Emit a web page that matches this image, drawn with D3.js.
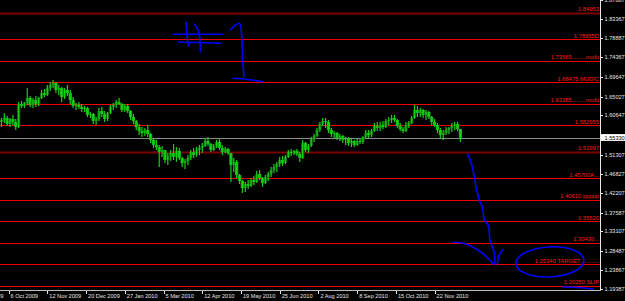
<!DOCTYPE html>
<html>
<head>
<meta charset="utf-8">
<script src="https://d3js.org/d3.v7.min.js"></script>
<style>
  body { margin: 0; background: #000; }
  svg { display: block; }
</style>
</head>
<body>
<div id="chart"></div>
<script>

// two-day candles, GBP/USD
var open = [1.5906,1.5953,1.6001,1.5858,1.5977,1.5906,1.5787,1.6332,1.6285,1.6356,
  1.6474,1.6309,1.6427,1.6332,1.6474,1.6593,1.6546,1.6711,1.6783,1.6830,
  1.6664,1.6711,1.6498,1.6664,1.6593,1.6427,1.6285,1.6309,1.6261,1.6214,
  1.6237,1.6072,1.6095,1.5929,1.5977,1.6166,1.6095,1.5977,1.6119,1.6261,
  1.6309,1.6380,1.6332,1.6190,1.6285,1.6166,1.6024,1.5929,1.5787,1.5692,
  1.5645,1.5716,1.5621,1.5479,1.5361,1.5313,1.5195,1.5242,1.5005,1.5100,
  1.5171,1.5076,1.5218,1.5053,1.4934,1.4981,1.5053,1.5195,1.5124,1.5242,
  1.5290,1.5337,1.5455,1.5384,1.5242,1.5337,1.5432,1.5290,1.5195,1.5266,
  1.5171,1.4887,1.4958,1.4650,1.4507,1.4341,1.4436,1.4389,1.4531,1.4484,
  1.4673,1.4578,1.4460,1.4602,1.4673,1.4768,1.4839,1.4910,1.5005,1.4934,
  1.5076,1.5195,1.5171,1.5218,1.5147,1.5053,1.5408,1.5242,1.5337,1.5503,
  1.5574,1.5716,1.5858,1.5929,1.5906,1.5716,1.5621,1.5645,1.5527,1.5574,
  1.5479,1.5503,1.5408,1.5455,1.5361,1.5455,1.5432,1.5550,1.5645,1.5598,
  1.5692,1.5811,1.5764,1.5835,1.5787,1.5929,1.5953,1.6001,1.5953,1.5811,
  1.5740,1.5692,1.5835,1.5882,1.6001,1.6190,1.6119,1.6190,1.6072,1.6143,
  1.6024,1.5906,1.5835,1.5716,1.5598,1.5645,1.5716,1.5764,1.5811,1.5858,
  1.5740];

var high = [1.6001,1.6119,1.6048,1.6001,1.6072,1.5977,1.6380,1.6403,1.6380,1.6711,
  1.6522,1.6474,1.6522,1.6498,1.6664,1.6688,1.6783,1.6854,1.6901,1.6854,
  1.6783,1.6735,1.6711,1.6783,1.6664,1.6498,1.6356,1.6380,1.6332,1.6285,
  1.6261,1.6143,1.6119,1.6024,1.6237,1.6261,1.6166,1.6143,1.6309,1.6356,
  1.6427,1.6474,1.6356,1.6332,1.6332,1.6190,1.6095,1.5953,1.5858,1.5787,
  1.5764,1.5835,1.5645,1.5527,1.5479,1.5361,1.5337,1.5242,1.5171,1.5242,
  1.5384,1.5313,1.5290,1.5076,1.5029,1.5124,1.5242,1.5290,1.5313,1.5361,
  1.5408,1.5527,1.5550,1.5408,1.5384,1.5479,1.5503,1.5361,1.5313,1.5290,
  1.5171,1.5053,1.5005,1.4673,1.4531,1.4484,1.4531,1.4578,1.4626,1.4744,
  1.4768,1.4602,1.4650,1.4721,1.4839,1.4910,1.4958,1.5076,1.5100,1.5124,
  1.5242,1.5266,1.5242,1.5266,1.5195,1.5479,1.5432,1.5384,1.5550,1.5621,
  1.5764,1.5906,1.6001,1.6001,1.5953,1.5764,1.5692,1.5669,1.5621,1.5598,
  1.5550,1.5550,1.5503,1.5479,1.5527,1.5527,1.5574,1.5716,1.5716,1.5740,
  1.5882,1.5906,1.5906,1.5929,1.5977,1.6024,1.6072,1.6072,1.5977,1.5882,
  1.5787,1.5906,1.5929,1.6048,1.6309,1.6285,1.6237,1.6214,1.6190,1.6166,
  1.6048,1.5977,1.5882,1.5764,1.5716,1.5787,1.5787,1.5882,1.5906,1.5906,
  1.5740];

var low = [1.5787,1.5882,1.5811,1.5787,1.5835,1.5716,1.5764,1.6237,1.6237,1.6309,
  1.6261,1.6237,1.6261,1.6285,1.6451,1.6498,1.6522,1.6640,1.6711,1.6593,
  1.6546,1.6380,1.6451,1.6522,1.6332,1.6237,1.6190,1.6214,1.6143,1.6143,
  1.6024,1.6001,1.5858,1.5835,1.5929,1.6024,1.5906,1.5929,1.6095,1.6190,
  1.6237,1.6309,1.6143,1.6143,1.6119,1.5953,1.5858,1.5716,1.5598,1.5550,
  1.5574,1.5550,1.5408,1.5290,1.5242,1.4839,1.5076,1.4934,1.4887,1.4981,
  1.5005,1.4958,1.5005,1.4839,1.4792,1.4887,1.5005,1.5053,1.5076,1.5124,
  1.5171,1.5313,1.5337,1.5195,1.5218,1.5290,1.5242,1.5124,1.5171,1.5124,
  1.4484,1.4721,1.4578,1.4436,1.4223,1.4247,1.4318,1.4365,1.4413,1.4460,
  1.4531,1.4365,1.4436,1.4507,1.4602,1.4697,1.4721,1.4839,1.4863,1.4910,
  1.5053,1.5100,1.5124,1.5100,1.4958,1.5029,1.5195,1.5171,1.5313,1.5432,
  1.5550,1.5669,1.5811,1.5764,1.5645,1.5550,1.5527,1.5479,1.5455,1.5408,
  1.5361,1.5337,1.5313,1.5313,1.5337,1.5384,1.5384,1.5503,1.5527,1.5550,
  1.5669,1.5692,1.5692,1.5740,1.5764,1.5835,1.5882,1.5906,1.5764,1.5692,
  1.5645,1.5669,1.5764,1.5858,1.5977,1.6024,1.6024,1.6001,1.5953,1.5977,
  1.5835,1.5787,1.5645,1.5527,1.5479,1.5598,1.5621,1.5669,1.5716,1.5692,
  1.5432];

var close = [1.5953,1.6001,1.5858,1.5977,1.5906,1.5787,1.6332,1.6285,1.6356,1.6474,
  1.6309,1.6427,1.6332,1.6474,1.6593,1.6546,1.6711,1.6783,1.6830,1.6664,
  1.6711,1.6498,1.6664,1.6593,1.6427,1.6285,1.6309,1.6261,1.6214,1.6237,
  1.6072,1.6095,1.5929,1.5977,1.6166,1.6095,1.5977,1.6119,1.6261,1.6309,
  1.6380,1.6332,1.6190,1.6285,1.6166,1.6024,1.5929,1.5787,1.5692,1.5645,
  1.5716,1.5621,1.5479,1.5361,1.5313,1.5195,1.5242,1.5005,1.5100,1.5171,
  1.5076,1.5218,1.5053,1.4934,1.4981,1.5053,1.5195,1.5124,1.5242,1.5290,
  1.5337,1.5455,1.5384,1.5242,1.5337,1.5432,1.5290,1.5195,1.5266,1.5171,
  1.4887,1.4958,1.4650,1.4507,1.4341,1.4436,1.4389,1.4531,1.4484,1.4673,
  1.4578,1.4460,1.4602,1.4673,1.4768,1.4839,1.4910,1.5005,1.4934,1.5076,
  1.5195,1.5171,1.5218,1.5147,1.5053,1.5408,1.5242,1.5337,1.5503,1.5574,
  1.5716,1.5858,1.5929,1.5906,1.5716,1.5621,1.5645,1.5527,1.5574,1.5479,
  1.5503,1.5408,1.5455,1.5361,1.5455,1.5432,1.5550,1.5645,1.5598,1.5692,
  1.5811,1.5764,1.5835,1.5787,1.5929,1.5953,1.6001,1.5953,1.5811,1.5740,
  1.5692,1.5835,1.5882,1.6001,1.6190,1.6119,1.6190,1.6072,1.6143,1.6024,
  1.5906,1.5835,1.5716,1.5598,1.5645,1.5716,1.5764,1.5811,1.5858,1.5740,
  1.5533];

var bidPrice = 1.5533;

// horizontal levels drawn on the chart and their notes
var levelPrices = [1.84953, 1.78655, 1.73565, 1.68475, 1.63385, 1.582955, 1.51997,
  1.45700, 1.40610, 1.35520, 1.30430, 1.25340, 1.20250];
var levelNotes = ["1.84953", "1.78655D", "1.73565.........mofu", "1.68475  MUD/C",
  "1.63385.........mofu", "1.582955", "1.51997", "1.45700A...", "1.40610  ppppp",
  "1.35520", "1.30430...", "1.25340   TARGET............", "1.20250   SLIP"];
var darkLevels = [1.84953, 1.51997];

// price scale labels (the one under the bid box is left out)
var priceTicks = ["1.87887", "1.83367", "1.78887", "1.74367", "1.69647", "1.65027",
  "1.60647", "1.51307", "1.46827", "1.42207", "1.37587", "1.33107",
  "1.28487", "1.23867", "1.19387"];

// time scale labels, positions in trading days from the left edge
var dateTickDays = [-21, 6, 33, 60, 87, 114, 141, 168, 195, 222, 249, 276, 303];
var dateLabels = ["28 Aug 2009", "6 Oct 2009", "12 Nov 2009", "20 Dec 2009",
  "27 Jan 2010", "5 Mar 2010", "12 Apr 2010", "19 May 2010", "25 Jun 2010",
  "2 Aug 2010", "8 Sep 2010", "15 Oct 2010", "22 Nov 2010"];

// hand drawn strokes, as [day, price]
var sketches = [
  [[120.8,1.7984],[155.3,1.7984]],
  [[124.3,1.7802],[153.9,1.7771]],
  [[129.7,1.8283],[130.6,1.7889],[131.6,1.7707]],
  [[135.5,1.8228],[138.3,1.8069],[139.4,1.7849],[139.7,1.7572]],
  [[160.4,1.8086],[166.9,1.8245],[168.5,1.7927],[169.2,1.7375],[170.1,1.6979]],
  [[162.7,1.6941],[172.9,1.6913],[183.6,1.6861]],
  [[326.1,1.5147],[328.9,1.4887],[330.7,1.4609],[332.3,1.4294],[334.2,1.4057],[336.5,1.3860],
   [337.6,1.3583],[340.4,1.3465],[341.6,1.3109],[343.5,1.2936],[344.6,1.2794],[345.1,1.2540]],
  [[346.7,1.2540],[348.1,1.2753],[350.9,1.2888]],
  [[316.0,1.3054],[323.0,1.3031],[330.0,1.2936],[336.9,1.2777],[343.9,1.2540]],
  [[392.5,1.1995],[403.0,1.1983],[413.4,1.1948]]
];
var ringCenter = [383.4, 1.2588];
var ringRadius = [23.7, 0.0356];

var width = 625, height = 301;
var plotW = 600, plotH = 290;
var daysPerBar = 2;
var font = "'Liberation Sans', Arial, sans-serif";

var svg = d3.select("#chart").append("svg")
    .attr("width", width)
    .attr("height", height)
    .style("background", "#000");

var x = d3.scaleLinear().domain([0, 418.3]).range([0, plotW]);
var y = d3.scaleLinear().domain([1.19226, 1.8797]).range([plotH, 0]);

svg.append("clipPath").attr("id", "plot")
  .append("rect").attr("width", plotW).attr("height", plotH);

var plot = svg.append("g").attr("clip-path", "url(#plot)");

// level lines
plot.selectAll(".level")
    .data(levelPrices)
    .enter().append("line")
    .attr("x1", 0).attr("x2", plotW)
    .attr("y1", d => Math.round(y(d)) + 0.5)
    .attr("y2", d => Math.round(y(d)) + 0.5)
    .attr("stroke", d => darkLevels.includes(d) ? "#7a0000" : "#f00000")
    .attr("stroke-width", d => darkLevels.includes(d) ? 2 : 1);

plot.selectAll(".note")
    .data(levelPrices)
    .enter().append("text")
    .attr("x", plotW - 1)
    .attr("y", d => y(d) - 1.6)
    .attr("text-anchor", "end")
    .attr("font-family", font)
    .attr("font-size", 5.8)
    .attr("fill", "#ff1a1a")
    .text((d, i) => levelNotes[i]);

// bid line
plot.append("line")
    .attr("x1", 0).attr("x2", plotW)
    .attr("y1", Math.round(y(bidPrice)) + 0.5)
    .attr("y2", Math.round(y(bidPrice)) + 0.5)
    .attr("stroke", "#8c8c8c");

// candles
var bars = close.map((c, i) => ({i: i, o: open[i], h: high[i], l: low[i], c: c}));

var candle = plot.selectAll(".candle")
    .data(bars)
    .enter().append("g");

candle.append("rect")
    .attr("x", d => x(d.i * daysPerBar) - 0.2)
    .attr("width", d => x((d.i + 1) * daysPerBar) - x(d.i * daysPerBar) + 0.4)
    .attr("y", d => y(Math.max(d.o, d.c)))
    .attr("height", d => Math.max(1, Math.abs(y(d.o) - y(d.c))))
    .attr("fill", d => d.c >= d.o ? "#0a6c0a" : "#14b814");

candle.append("line")
    .attr("x1", d => x(d.i * daysPerBar + 1))
    .attr("x2", d => x(d.i * daysPerBar + 1))
    .attr("y1", d => y(d.h))
    .attr("y2", d => y(d.l))
    .attr("stroke", "#18d018")
    .attr("stroke-width", 1.2);

// hand drawn annotations
var sketchLine = d3.line()
    .x(d => x(d[0]))
    .y(d => y(d[1]))
    .curve(d3.curveCatmullRom);

svg.selectAll(".sketch")
    .data(sketches)
    .enter().append("path")
    .attr("d", sketchLine)
    .attr("fill", "none")
    .attr("stroke", "#0000ff")
    .attr("stroke-width", 1.6)
    .attr("stroke-linecap", "round");

svg.append("ellipse")
    .attr("cx", x(ringCenter[0]))
    .attr("cy", y(ringCenter[1]))
    .attr("rx", x(ringCenter[0] + ringRadius[0]) - x(ringCenter[0]))
    .attr("ry", y(ringCenter[1] - ringRadius[1]) - y(ringCenter[1]))
    .attr("transform", "rotate(-3 " + x(ringCenter[0]) + " " + y(ringCenter[1]) + ")")
    .attr("fill", "none")
    .attr("stroke", "#0000ff")
    .attr("stroke-width", 1.6);

// axes frame
svg.append("line")
    .attr("x1", plotW + 0.5).attr("x2", plotW + 0.5)
    .attr("y1", 0).attr("y2", plotH + 1)
    .attr("stroke", "#e6e6e6");
svg.append("line")
    .attr("x1", 0).attr("x2", plotW + 1)
    .attr("y1", plotH + 0.5).attr("y2", plotH + 0.5)
    .attr("stroke", "#bdbdbd");

// price scale
var priceAxis = svg.append("g");
priceAxis.selectAll("line")
    .data(priceTicks)
    .enter().append("line")
    .attr("x1", plotW + 1).attr("x2", plotW + 3)
    .attr("y1", d => Math.round(y(+d)) + 0.5)
    .attr("y2", d => Math.round(y(+d)) + 0.5)
    .attr("stroke", "#e6e6e6");
priceAxis.selectAll("text")
    .data(priceTicks)
    .enter().append("text")
    .attr("x", plotW + 4.5)
    .attr("y", d => y(+d))
    .attr("dy", "0.35em")
    .attr("font-family", font)
    .attr("font-size", 5.6)
    .attr("fill", "#e6e6e6")
    .text(d => d);

// bid box
svg.append("rect")
    .attr("x", plotW + 1)
    .attr("y", y(bidPrice) - 3.6)
    .attr("width", width - plotW - 1)
    .attr("height", 6.8)
    .attr("fill", "#ffffff");
svg.append("text")
    .attr("x", plotW + 4.5)
    .attr("y", y(bidPrice))
    .attr("dy", "0.35em")
    .attr("font-family", font)
    .attr("font-size", 5.6)
    .attr("fill", "#000")
    .text(bidPrice.toFixed(5));

// time scale
var timeAxis = svg.append("g");
timeAxis.selectAll("line")
    .data(dateTickDays)
    .enter().append("line")
    .attr("x1", d => Math.round(x(d)) + 0.5)
    .attr("x2", d => Math.round(x(d)) + 0.5)
    .attr("y1", plotH + 1).attr("y2", plotH + 4)
    .attr("stroke", "#e6e6e6");
timeAxis.selectAll("text")
    .data(dateTickDays)
    .enter().append("text")
    .attr("x", d => x(d) + 2)
    .attr("y", plotH + 8.3)
    .attr("font-family", font)
    .attr("font-size", 5.6)
    .attr("fill", "#e6e6e6")
    .text((d, i) => dateLabels[i]);

</script>
</body>
</html>
